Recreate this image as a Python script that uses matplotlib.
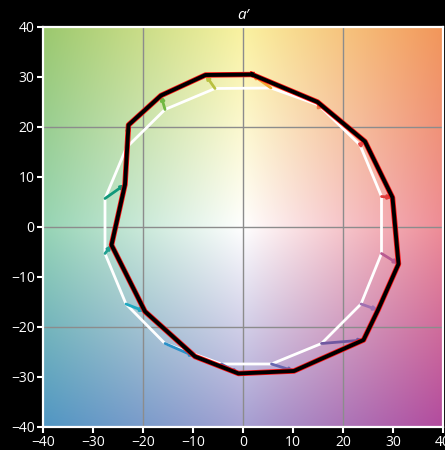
import numpy as np
import matplotlib
matplotlib.use("Agg")
import matplotlib.pyplot as plt

plt.rcParams['font.family'] = ['Open Sans', 'DejaVu Sans']

# reference (white) polygon
ref_a = [5.6, 15.1, 23.4, 27.7, 27.7, 23.6, 15.7, 5.7, -4.3, -15.6, -23.4, -27.6, -27.6, -23.3, -15.6, -5.6]
ref_b = [27.8, 24.4, 16.4, 6.1, -5.3, -15.4, -23.3, -27.4, -27.4, -23.3, -15.4, -5.3, 5.7, 15.9, 23.5, 27.7]
# measured (black/red) polygon, same order
mea_a = [1.8, 14.9, 24.4, 29.9, 31.1, 27.0, 24.1, 10.2, -0.9, -9.6, -19.6, -26.3, -23.6, -22.9, -16.4, -7.5]
mea_b = [30.5, 25.0, 17.1, 5.9, -7.4, -16.6, -22.6, -28.8, -29.3, -25.9, -16.9, -3.6, 8.5, 20.4, 26.3, 30.4]
arrow_colors = ['#f0a830', '#f08050', '#e84848', '#e03c3c', '#b85a90', '#a070b0', '#7058a0', '#6868b0',
                '#5a70b8', '#2a90c8', '#20a8c0', '#20a090', '#10987a', '#40a860', '#70b840', '#b8c040']

# background colour anchors at a, b = -40, 0, 40
bg_rows = [
    [(155, 200, 110), (250, 242, 160), (242, 150, 90)],   # b = 40
    [(150, 212, 180), (255, 255, 255), (238, 140, 150)],  # b = 0
    [(80, 150, 195), (165, 160, 210), (178, 75, 158)],    # b = -40
]

anch = np.array(bg_rows, dtype=float) / 255.0
n = 400
u = np.linspace(0, 2, n)
xi = np.clip(u.astype(int), 0, 1)
fx = u - xi
img = np.zeros((n, n, 3))
for r in range(n):
    ry = min(int(u[r]), 1)
    fy = u[r] - ry
    top = anch[ry, xi] * (1 - fx)[:, None] + anch[ry, xi + 1] * fx[:, None]
    bot = anch[ry + 1, xi] * (1 - fx)[:, None] + anch[ry + 1, xi + 1] * fx[:, None]
    img[r] = top * (1 - fy) + bot * fy

fig = plt.figure(figsize=(4.45, 4.5), dpi=100, facecolor='black')
ax = fig.add_axes([43 / 445, 23 / 450, 400 / 445, 400 / 450])
ax.set_facecolor('black')
ax.imshow(img, extent=(-40, 40, -40, 40), origin='upper', interpolation='bilinear', zorder=0)

for g in (-20, 0, 20):
    ax.axvline(g, color='#8c8c8c', lw=1.0, zorder=1)
    ax.axhline(g, color='#8c8c8c', lw=1.0, zorder=1)

ra = ref_a + ref_a[:1]
rb = ref_b + ref_b[:1]
ax.plot(ra, rb, color='white', lw=2.0, zorder=2)

for x0, y0, x1, y1, c in zip(ref_a, ref_b, mea_a, mea_b, arrow_colors):
    ax.annotate('', xy=(x1, y1), xytext=(x0, y0),
                arrowprops=dict(arrowstyle='-|>', mutation_scale=5, lw=2.0, color=c,
                                shrinkA=0, shrinkB=0), zorder=3)

ma = mea_a + mea_a[:1]
mb = mea_b + mea_b[:1]
ax.plot(ma, mb, color='#ff1010', lw=3.9, zorder=4)
ax.plot(ma, mb, color='black', lw=2.8, zorder=5)

ax.set_xlim(-40, 40)
ax.set_ylim(-40, 40)
ax.set_xticks(range(-40, 41, 10))
ax.set_yticks(range(-40, 41, 10))
ax.tick_params(colors='white', labelcolor='white', labelsize=10, length=4, width=1.5, pad=2)
for s in ax.spines.values():
    s.set_color('white')
    s.set_linewidth(1.6)
ax.set_title('a′', color='white', fontsize=11, style='italic', pad=6)

fig.savefig('out.png', dpi=100, facecolor='black')
